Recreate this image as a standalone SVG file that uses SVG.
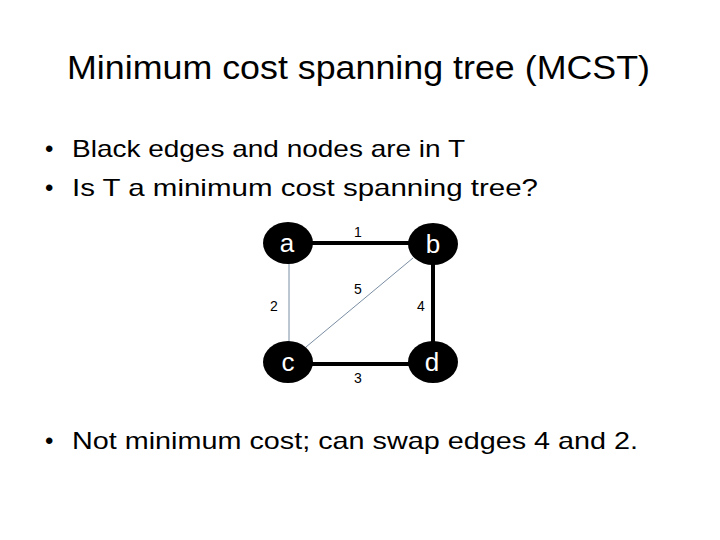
<svg xmlns="http://www.w3.org/2000/svg" width="720" height="540" viewBox="0 0 720 540">
<style>
.t{font-family:"Liberation Sans",Arial,sans-serif;fill:#000}
.title{font-size:34px}
.bul{font-size:24px}
.node{fill:#000}
.nl{font-family:"Liberation Sans",Arial,sans-serif;font-size:26px;fill:#fff;text-anchor:middle}
.el{font-family:"Liberation Sans",Arial,sans-serif;font-size:14px;fill:#000;text-anchor:middle}
.tree{stroke:#000;stroke-width:4;fill:none}
.thin{stroke:#7a8ea3;stroke-width:1;fill:none}
</style>
<rect width="720" height="540" fill="#fff"/>
<text class="t title" x="67" y="79" textLength="583" lengthAdjust="spacingAndGlyphs">Minimum cost spanning tree (MCST)</text>
<text class="t bul" x="45" y="157">•</text>
<text class="t bul" x="72" y="157" textLength="393" lengthAdjust="spacingAndGlyphs">Black edges and nodes are in T</text>
<text class="t bul" x="45" y="196">•</text>
<text class="t bul" x="72" y="196" textLength="466" lengthAdjust="spacingAndGlyphs">Is T a minimum cost spanning tree?</text>
<g id="connectors">
<line class="tree" x1="288" y1="243" x2="433" y2="243"/>
<line class="tree" x1="433" y1="244" x2="433" y2="362"/>
<line class="tree" x1="288" y1="364" x2="433" y2="364"/>
<line class="thin" x1="289" y1="243" x2="289" y2="362"/>
<line class="thin" x1="413" y1="258" x2="306" y2="347"/>
<text class="el" x="358" y="237">1</text>
<text class="el" x="358" y="294">5</text>
<text class="el" x="274" y="311">2</text>
<text class="el" x="421" y="311">4</text>
<text class="el" x="358" y="383">3</text>
</g>
<g id="node-a"><ellipse class="node" cx="288" cy="243" rx="25" ry="21"/><text class="nl" x="287" y="252">a</text></g>
<g id="node-b"><ellipse class="node" cx="433" cy="244" rx="25" ry="21"/><text class="nl" x="433" y="253">b</text></g>
<g id="node-c"><ellipse class="node" cx="288" cy="362" rx="25" ry="21"/><text class="nl" x="288" y="371">c</text></g>
<g id="node-d"><ellipse class="node" cx="433" cy="362" rx="25" ry="21"/><text class="nl" x="432" y="371">d</text></g>
<text class="t bul" x="45" y="449">•</text>
<text class="t bul" x="72" y="449" textLength="566" lengthAdjust="spacingAndGlyphs">Not minimum cost; can swap edges 4 and 2.</text>
</svg>
